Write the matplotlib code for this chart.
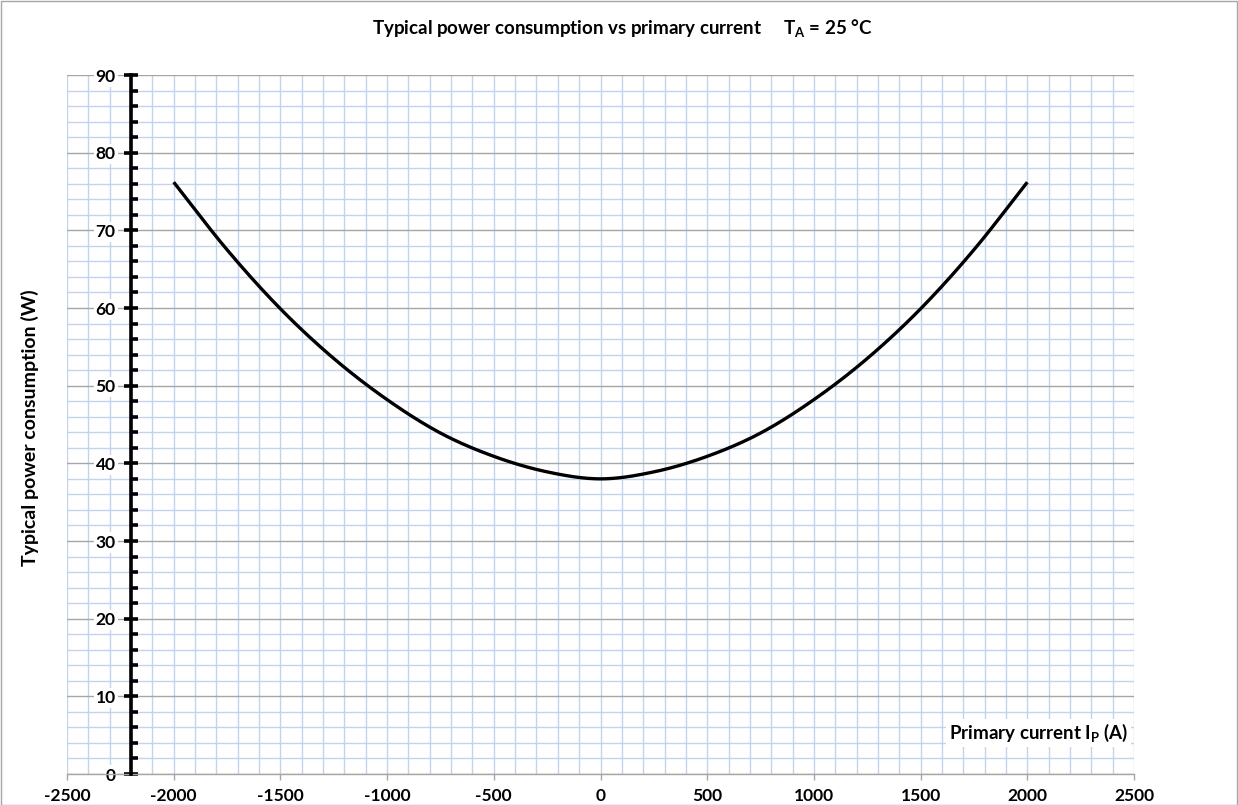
import numpy as np
import matplotlib
matplotlib.use("Agg")
import matplotlib.pyplot as plt
from matplotlib.ticker import MultipleLocator
from matplotlib.patches import Rectangle

plt.rcParams['font.family'] = ['Lato', 'DejaVu Sans']
plt.rcParams['mathtext.fontset'] = 'custom'
plt.rcParams['mathtext.rm'] = 'Lato'
plt.rcParams['mathtext.bf'] = 'Lato:bold'
plt.rcParams['mathtext.it'] = 'Lato:italic'
plt.rcParams['axes.unicode_minus'] = False

# Data
current_A = [-2000, -1750, -1500, -1250, -1000, -750, -500, -250, 0,
             250, 500, 750, 1000, 1250, 1500, 1750, 2000]
power_W = [76.2, 67.5, 59.9, 53.5, 48.2, 43.9, 40.9, 38.9, 38.0,
           38.9, 40.9, 43.9, 48.2, 53.5, 59.9, 67.5, 76.2]

x_ticks = [-2500, -2000, -1500, -1000, -500, 0, 500, 1000, 1500, 2000, 2500]
y_ticks = [0, 10, 20, 30, 40, 50, 60, 70, 80, 90]

title_text = r"Typical power consumption vs primary current     $\mathbf{T_A}$ = 25 °C"
xlabel_text = r"Primary current $\mathbf{I_P}$ (A)"
ylabel_text = "Typical power consumption (W)"


def smooth(xs, ys, n=30):
    """Catmull-Rom smoothing (like a spreadsheet's smoothed line)."""
    xs = np.asarray(xs, float)
    ys = np.asarray(ys, float)
    px = np.concatenate([[2 * xs[0] - xs[1]], xs, [2 * xs[-1] - xs[-2]]])
    py = np.concatenate([[2 * ys[0] - ys[1]], ys, [2 * ys[-1] - ys[-2]]])
    outx, outy = [], []
    t = np.linspace(0, 1, n, endpoint=False)
    for i in range(1, len(px) - 2):
        for (a, out) in ((px, outx), (py, outy)):
            a0, a1, a2, a3 = a[i - 1], a[i], a[i + 1], a[i + 2]
            out.extend(0.5 * ((2 * a1) + (-a0 + a2) * t +
                              (2 * a0 - 5 * a1 + 4 * a2 - a3) * t ** 2 +
                              (-a0 + 3 * a1 - 3 * a2 + a3) * t ** 3))
    outx.append(xs[-1])
    outy.append(ys[-1])
    return np.array(outx), np.array(outy)


fig = plt.figure(figsize=(12.38, 8.05), dpi=100)
ax = fig.add_axes([67 / 1238, 1 - 774 / 805, (1134 - 67) / 1238, (774 - 75) / 805])

ax.set_xlim(-2500, 2500)
ax.set_ylim(0, 90)

ax.xaxis.set_minor_locator(MultipleLocator(100))
ax.yaxis.set_minor_locator(MultipleLocator(2))
ax.set_xticks(x_ticks)
ax.set_yticks(y_ticks)

# grid
ax.set_axisbelow(True)
ax.grid(which='minor', axis='both', color='#c3d3ee', linewidth=1.0)
ax.grid(which='major', axis='x', color='#c3d3ee', linewidth=1.0)
ax.grid(which='major', axis='y', color='#a6a6a6', linewidth=1.0)

# spines
for s in ('top', 'right'):
    ax.spines[s].set_visible(False)
ax.spines['bottom'].set_color('#a6a6a6')
ax.spines['bottom'].set_linewidth(1.0)
ax.spines['left'].set_position(('data', -2200))
ax.spines['left'].set_linewidth(2.6)
ax.spines['left'].set_color('black')
ax.spines['left'].set_zorder(4)

# ticks
ax.tick_params(axis='y', which='major', direction='inout', length=10, width=2.6,
               color='black', labelsize=12.5, pad=6)
ax.tick_params(axis='y', which='minor', direction='in', length=5, width=2.6, color='black')
ax.tick_params(axis='x', which='major', direction='out', length=4, width=1.0,
               color='#a6a6a6', labelsize=12.5, pad=6)
ax.tick_params(axis='x', which='minor', length=0)

for lbl in ax.get_yticklabels():
    lbl.set_fontweight('bold')
    lbl.set_bbox(dict(facecolor='white', edgecolor='none', pad=1.5))
for lbl in ax.get_xticklabels():
    lbl.set_fontweight('bold')

# curve
sx, sy = smooth(current_A, power_W)
ax.plot(sx, sy, color='black', linewidth=2.4, solid_capstyle='butt', zorder=5)

# labels
ax.text(0.9945, 0.043, xlabel_text, transform=ax.transAxes, ha='right', va='bottom',
        fontsize=13.5, fontweight='bold',
        bbox=dict(facecolor='white', edgecolor='none', pad=2), zorder=6)
fig.text(30 / 1238, 1 - 428 / 805, ylabel_text, rotation=90, ha='center', va='center',
         fontsize=14, fontweight='bold')
fig.text(622 / 1238, 1 - 28 / 805, title_text, ha='center', va='center',
         fontsize=13.5, fontweight='bold')

# outer chart border
fig.patches.append(Rectangle((0.5 / 1238, 0.5 / 805), 1 - 1.5 / 1238, 1 - 1.5 / 805,
                             transform=fig.transFigure, fill=False,
                             edgecolor='#a6a6a6', linewidth=1.0))

fig.savefig('out.png', dpi=100)
